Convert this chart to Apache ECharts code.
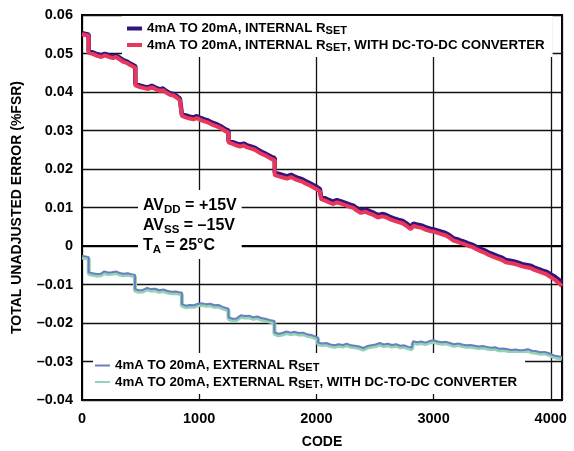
<!DOCTYPE html>
<html>
<head>
<meta charset="utf-8">
<script src="https://cdn.jsdelivr.net/npm/echarts@6/dist/echarts.min.js"></script>
<style>html,body{margin:0;padding:0;background:#fff;}#c{width:574px;height:451px;}</style>
</head>
<body>
<div id="c"></div>
<script>
var seriesNames = [
  '4mA TO 20mA, INTERNAL RSET',
  '4mA TO 20mA, INTERNAL RSET, WITH DC-TO-DC CONVERTER',
  '4mA TO 20mA, EXTERNAL RSET',
  '4mA TO 20mA, EXTERNAL RSET, WITH DC-TO-DC CONVERTER'
];
var xTicks = [0, 1000, 2000, 3000, 4000];
var yTicks = [-0.04, -0.03, -0.02, -0.01, 0, 0.01, 0.02, 0.03, 0.04, 0.05, 0.06];

var internalRset = [[0,0.0553],[30,0.0551],[57,0.0549],[57,0.0506],[90,0.0503],[130,0.0498],[165,0.0495],[195,0.0499],[230,0.0495],[265,0.0492],[290,0.0495],[320,0.0489],[355,0.0482],[385,0.0479],[410,0.0474],[435,0.0470],[455,0.0467],
[455,0.0421],[490,0.0417],[530,0.0414],[565,0.0412],[595,0.0416],[630,0.0411],[665,0.0407],[690,0.0409],[720,0.0402],[755,0.0396],[780,0.0395],[810,0.0389],[835,0.0383],[852,0.0381],
[852,0.0343],[885,0.0339],[920,0.0336],[950,0.0334],[980,0.0337],[1015,0.0332],[1050,0.0328],[1075,0.0326],[1105,0.0321],[1140,0.0317],[1165,0.0314],[1195,0.0309],[1225,0.0303],[1250,0.0300],
[1250,0.0274],[1285,0.0270],[1320,0.0266],[1350,0.0263],[1380,0.0266],[1410,0.0261],[1445,0.0258],[1475,0.0255],[1500,0.0250],[1535,0.0244],[1565,0.0240],[1595,0.0235],[1625,0.0230],[1645,0.0228],
[1645,0.0190],[1680,0.0187],[1715,0.0184],[1750,0.0181],[1785,0.0185],[1815,0.0180],[1850,0.0176],[1880,0.0173],[1910,0.0168],[1945,0.0163],[1975,0.0158],[2005,0.0153],[2030,0.0148],
[2040,0.0128],[2075,0.0124],[2110,0.0119],[2140,0.0115],[2175,0.0119],[2210,0.0116],[2245,0.0112],[2280,0.0108],[2315,0.0105],[2345,0.0098],[2380,0.0092],[2415,0.0095],[2450,0.0091],[2490,0.0086],[2525,0.0080],[2560,0.0083],[2590,0.0081],[2625,0.0076],[2660,0.0072],[2700,0.0068],[2735,0.0065],[2770,0.0058],[2805,0.0050],[2830,0.0058],[2865,0.0055],[2900,0.0053],[2935,0.0048],[2970,0.0045],[3000,0.0043],[3035,0.0040],[3065,0.0037],[3100,0.0034],[3135,0.0028],[3170,0.0020],[3205,0.0017],[3240,0.0013],[3270,0.0010],[3300,0.0006],[3335,0.0003],[3370,-0.0003],[3405,-0.0008],[3440,-0.0012],[3475,-0.0018],[3510,-0.0022],[3545,-0.0026],[3580,-0.0030],[3615,-0.0036],[3650,-0.0038],[3685,-0.0040],[3720,-0.0043],[3755,-0.0047],[3790,-0.0049],[3825,-0.0051],[3860,-0.0056],[3895,-0.0060],[3930,-0.0064],[3965,-0.0067],[4000,-0.0074],[4035,-0.0080],[4065,-0.0087],[4095,-0.0094]];

var internalRsetDcdc = [[0,0.0550],[30,0.0548],[57,0.0546],[57,0.0502],[90,0.0499],[130,0.0494],[165,0.0491],[195,0.0495],[230,0.0491],[265,0.0488],[290,0.0491],[320,0.0485],[355,0.0478],[385,0.0475],[410,0.0470],[435,0.0466],[455,0.0463],
[455,0.0417],[490,0.0413],[530,0.0410],[565,0.0408],[595,0.0412],[630,0.0407],[665,0.0403],[690,0.0405],[720,0.0398],[755,0.0392],[780,0.0391],[810,0.0385],[835,0.0379],[852,0.0377],
[852,0.0338],[885,0.0334],[920,0.0331],[950,0.0329],[980,0.0332],[1015,0.0327],[1050,0.0323],[1075,0.0321],[1105,0.0316],[1140,0.0312],[1165,0.0309],[1195,0.0304],[1225,0.0298],[1250,0.0295],
[1250,0.0269],[1285,0.0265],[1320,0.0261],[1350,0.0258],[1380,0.0261],[1410,0.0256],[1445,0.0253],[1475,0.0250],[1500,0.0245],[1535,0.0239],[1565,0.0235],[1595,0.0230],[1625,0.0225],[1645,0.0223],
[1645,0.0184],[1680,0.0181],[1715,0.0178],[1750,0.0175],[1785,0.0179],[1815,0.0174],[1850,0.0170],[1880,0.0167],[1910,0.0162],[1945,0.0157],[1975,0.0152],[2005,0.0147],[2030,0.0142],
[2040,0.0122],[2075,0.0118],[2110,0.0113],[2140,0.0109],[2175,0.0113],[2210,0.0110],[2245,0.0106],[2280,0.0102],[2315,0.0099],[2345,0.0092],[2380,0.0086],[2415,0.0089],[2450,0.0085],[2490,0.0080],[2525,0.0074],[2560,0.0077],[2590,0.0075],[2625,0.0070],[2660,0.0066],[2700,0.0062],[2735,0.0059],[2770,0.0052],[2805,0.0044],[2830,0.0052],[2865,0.0049],[2900,0.0047],[2935,0.0042],[2970,0.0039],[3000,0.0037],[3035,0.0034],[3065,0.0031],[3100,0.0028],[3135,0.0022],[3170,0.0014],[3205,0.0011],[3240,0.0007],[3270,0.0004],[3300,0.0000],[3335,-0.0003],[3370,-0.0009],[3405,-0.0014],[3440,-0.0018],[3475,-0.0024],[3510,-0.0028],[3545,-0.0032],[3580,-0.0036],[3615,-0.0042],[3650,-0.0044],[3685,-0.0046],[3720,-0.0049],[3755,-0.0053],[3790,-0.0055],[3825,-0.0057],[3860,-0.0062],[3895,-0.0066],[3930,-0.0070],[3965,-0.0074],[4000,-0.0081],[4035,-0.0088],[4065,-0.0095],[4095,-0.0104]];

var externalRset = [[0,-0.0026],[30,-0.0027],[57,-0.0029],[57,-0.0068],[90,-0.0071],[125,-0.0073],[160,-0.0072],[190,-0.0066],[220,-0.0069],[255,-0.0068],[290,-0.0066],[320,-0.0070],[355,-0.0072],[390,-0.0071],[420,-0.0073],[452,-0.0075],
[452,-0.0112],[485,-0.0115],[520,-0.0114],[555,-0.0109],[590,-0.0112],[625,-0.0111],[660,-0.0115],[695,-0.0113],[730,-0.0117],[765,-0.0119],[800,-0.0118],[830,-0.0120],[852,-0.0121],
[852,-0.0151],[885,-0.0155],[920,-0.0153],[955,-0.0154],[990,-0.0150],[1025,-0.0149],[1060,-0.0151],[1095,-0.0150],[1130,-0.0154],[1165,-0.0153],[1200,-0.0158],[1230,-0.0161],[1250,-0.0163],
[1250,-0.0185],[1285,-0.0189],[1320,-0.0188],[1355,-0.0180],[1390,-0.0182],[1425,-0.0181],[1460,-0.0185],[1495,-0.0183],[1530,-0.0187],[1565,-0.0189],[1600,-0.0192],[1642,-0.0195],
[1642,-0.0224],[1675,-0.0228],[1710,-0.0226],[1745,-0.0222],[1780,-0.0225],[1815,-0.0223],[1850,-0.0226],[1885,-0.0225],[1920,-0.0229],[1955,-0.0231],[1990,-0.0235],[2015,-0.0238],
[2015,-0.0251],[2050,-0.0253],[2085,-0.0252],[2120,-0.0256],[2155,-0.0258],[2190,-0.0255],[2225,-0.0257],[2260,-0.0254],[2295,-0.0258],[2330,-0.0259],[2365,-0.0261],[2400,-0.0265],[2435,-0.0260],[2470,-0.0258],[2505,-0.0256],[2540,-0.0252],[2575,-0.0256],[2610,-0.0254],[2645,-0.0257],[2680,-0.0255],[2715,-0.0259],[2750,-0.0258],[2785,-0.0262],[2815,-0.0264],
[2825,-0.0247],[2860,-0.0250],[2895,-0.0248],[2930,-0.0251],[2965,-0.0247],[3000,-0.0245],[3035,-0.0248],[3070,-0.0250],[3105,-0.0249],[3140,-0.0252],[3175,-0.0255],[3210,-0.0253],[3245,-0.0256],[3280,-0.0258],[3315,-0.0257],[3350,-0.0259],[3385,-0.0261],[3420,-0.0260],[3455,-0.0262],[3490,-0.0264],[3525,-0.0263],[3560,-0.0267],[3595,-0.0266],[3630,-0.0268],[3665,-0.0270],[3700,-0.0269],[3735,-0.0271],[3770,-0.0270],[3805,-0.0268],[3840,-0.0272],[3875,-0.0273],[3910,-0.0276],[3945,-0.0275],[3980,-0.0278],[4015,-0.0283],[4050,-0.0286],[4095,-0.0288]];

var externalRsetDcdc = [[0,-0.0030],[30,-0.0031],[57,-0.0033],[57,-0.0072],[90,-0.0075],[125,-0.0077],[160,-0.0076],[190,-0.0070],[220,-0.0073],[255,-0.0072],[290,-0.0070],[320,-0.0074],[355,-0.0076],[390,-0.0075],[420,-0.0077],[452,-0.0079],
[452,-0.0116],[485,-0.0119],[520,-0.0118],[555,-0.0113],[590,-0.0116],[625,-0.0115],[660,-0.0119],[695,-0.0117],[730,-0.0121],[765,-0.0123],[800,-0.0122],[830,-0.0124],[852,-0.0125],
[852,-0.0155],[885,-0.0159],[920,-0.0157],[955,-0.0158],[990,-0.0154],[1025,-0.0153],[1060,-0.0155],[1095,-0.0154],[1130,-0.0158],[1165,-0.0157],[1200,-0.0162],[1230,-0.0165],[1250,-0.0167],
[1250,-0.0189],[1285,-0.0193],[1320,-0.0192],[1355,-0.0184],[1390,-0.0186],[1425,-0.0185],[1460,-0.0189],[1495,-0.0187],[1530,-0.0191],[1565,-0.0193],[1600,-0.0196],[1642,-0.0199],
[1642,-0.0228],[1675,-0.0232],[1710,-0.0230],[1745,-0.0226],[1780,-0.0229],[1815,-0.0227],[1850,-0.0230],[1885,-0.0229],[1920,-0.0233],[1955,-0.0235],[1990,-0.0239],[2015,-0.0242],
[2015,-0.0255],[2050,-0.0257],[2085,-0.0256],[2120,-0.0260],[2155,-0.0262],[2190,-0.0259],[2225,-0.0261],[2260,-0.0258],[2295,-0.0262],[2330,-0.0263],[2365,-0.0265],[2400,-0.0269],[2435,-0.0264],[2470,-0.0262],[2505,-0.0260],[2540,-0.0256],[2575,-0.0260],[2610,-0.0258],[2645,-0.0261],[2680,-0.0259],[2715,-0.0263],[2750,-0.0262],[2785,-0.0266],[2815,-0.0268],
[2825,-0.0251],[2860,-0.0254],[2895,-0.0252],[2930,-0.0255],[2965,-0.0251],[3000,-0.0249],[3035,-0.0252],[3070,-0.0254],[3105,-0.0253],[3140,-0.0256],[3175,-0.0259],[3210,-0.0257],[3245,-0.0260],[3280,-0.0262],[3315,-0.0261],[3350,-0.0263],[3385,-0.0265],[3420,-0.0264],[3455,-0.0266],[3490,-0.0268],[3525,-0.0267],[3560,-0.0271],[3595,-0.0270],[3630,-0.0272],[3665,-0.0274],[3700,-0.0273],[3735,-0.0275],[3770,-0.0274],[3805,-0.0272],[3840,-0.0276],[3875,-0.0277],[3910,-0.0280],[3945,-0.0279],[3980,-0.0282],[4015,-0.0287],[4050,-0.0290],[4095,-0.0292]];

var FONT = '"Liberation Sans", Arial, sans-serif';
var legendRich = {
  n: {fontFamily: FONT, fontWeight: 'bold', fontSize: 13.3, color: '#000', lineHeight: 16},
  s: {fontFamily: FONT, fontWeight: 'bold', fontSize: 11, color: '#000', lineHeight: 7, verticalAlign: 'bottom'}
};
function legendFmt(name) {
  var parts = name.split('RSET');
  return '{n|' + parts[0] + 'R}{s|SET}' + (parts[1] ? '{n|' + parts[1] + '}' : '');
}
function xFmt(v) { return String(v); }
function yFmt(v) {
  if (Math.abs(v) < 1e-9) return '0';
  return v < 0 ? '\u2013' + (-v).toFixed(2) : v.toFixed(2);
}

var chart = echarts.init(document.getElementById('c'), null, {renderer: 'canvas'});
var option = {
  animation: false,
  backgroundColor: '#fff',
  grid: {left: 82, right: 12, top: 15, bottom: 51, outerBoundsMode: 'none', containLabel: false, show: true, borderColor: '#000', borderWidth: 2, backgroundColor: 'transparent'},
  xAxis: {
    type: 'value', min: xTicks[0], max: 4096, interval: 1000,
    name: 'CODE', nameLocation: 'middle', nameGap: 35,
    nameTextStyle: {fontFamily: FONT, fontWeight: 'bold', fontSize: 14, color: '#000'},
    axisLine: {show: true, lineStyle: {color: '#000', width: 2}},
    axisTick: {show: false},
    axisLabel: {showMaxLabel: false, margin: 11, formatter: xFmt, fontFamily: FONT, fontWeight: 'bold', fontSize: 14.5, color: '#000'},
    splitLine: {show: true, lineStyle: {color: '#111', width: 1.3}}
  },
  yAxis: {
    type: 'value', min: yTicks[0], max: yTicks[yTicks.length - 1], interval: 0.01,
    name: 'TOTAL UNADJUSTED ERROR (%FSR)', nameLocation: 'middle', nameGap: 58,
    nameTextStyle: {fontFamily: FONT, fontWeight: 'bold', fontSize: 14, color: '#000'},
    axisLine: {show: true, lineStyle: {color: '#000', width: 2}},
    axisTick: {show: false},
    axisLabel: {margin: 9, formatter: yFmt, fontFamily: FONT, fontWeight: 'bold', fontSize: 14.5, color: '#000'},
    splitLine: {show: true, lineStyle: {color: '#111', width: 1.3}}
  },
  legend: [
    {
      data: [seriesNames[0], seriesNames[1]], orient: 'vertical', left: 122, top: 16,
      backgroundColor: '#fff', padding: [6, 8, 4, 5], itemGap: 2, itemWidth: 15, itemHeight: 4,
      icon: 'rect', selectedMode: false, z: 10, formatter: legendFmt,
      textStyle: {rich: legendRich, fontFamily: FONT, fontWeight: 'bold', fontSize: 13.3, color: '#000'}
    },
    {
      data: [seriesNames[2], seriesNames[3]], orient: 'vertical', left: 93, top: 353,
      backgroundColor: '#fff', padding: [6, 8, 4, 2], itemGap: 2, itemWidth: 15, itemHeight: 2,
      icon: 'rect', selectedMode: false, z: 10, formatter: legendFmt,
      textStyle: {rich: legendRich, fontFamily: FONT, fontWeight: 'bold', fontSize: 13.3, color: '#000'}
    }
  ],
  graphic: [{
    type: 'text', left: 138, top: 190, z: 10,
    style: {
      text: '{m|AV}{s|DD}{m| = +15V}\n{m|AV}{s|SS}{m| = \u201315V}\n{m|T}{s|A}{m| = 25\u00b0C}',
      align: 'center',
      backgroundColor: '#fff', padding: [6, 5, 3, 5],
      rich: {
        m: {fontFamily: FONT, fontWeight: 'bold', fontSize: 16, fill: '#000', lineHeight: 20},
        s: {fontFamily: FONT, fontWeight: 'bold', fontSize: 11.5, fill: '#000', lineHeight: 8, verticalAlign: 'bottom'}
      }
    }
  }],
  series: [
    {name: seriesNames[0], type: 'line', data: internalRset, showSymbol: false, z: 2, color: '#33137d', lineStyle: {width: 4.5, color: '#33137d'}},
    {name: seriesNames[1], type: 'line', data: internalRsetDcdc, showSymbol: false, z: 3, color: '#e8375b', lineStyle: {width: 4, color: '#e8375b'}},
    {name: seriesNames[2], type: 'line', data: externalRset, showSymbol: false, z: 5, color: '#6a7fbf', lineStyle: {width: 2, color: '#6a7fbf'}},
    {name: seriesNames[3], type: 'line', data: externalRsetDcdc, showSymbol: false, z: 4, color: '#93d2b4', lineStyle: {width: 4, color: '#93d2b4'}}
  ]
};
chart.setOption(option);
</script>
</body>
</html>
